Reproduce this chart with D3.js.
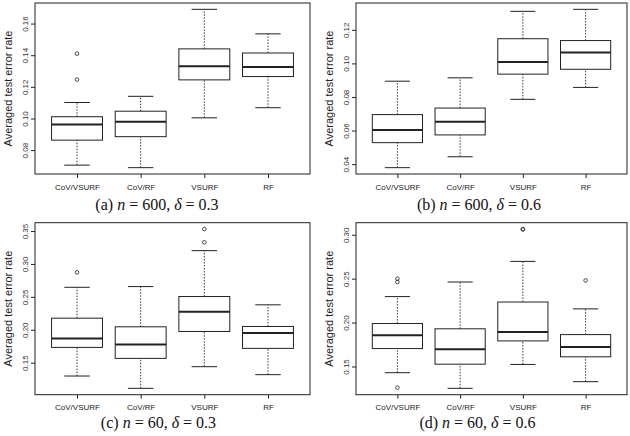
<!DOCTYPE html>
<html><head><meta charset="utf-8">
<script src="https://cdn.jsdelivr.net/npm/d3@7/dist/d3.min.js"></script>
<style>body{margin:0;background:#fff}</style></head>
<body>
<svg id="chart" width="630" height="436"></svg>
<script>
// ---- data ----
const categories = ["CoV/VSURF", "CoV/RF", "VSURF", "RF"];
// each row: [lower whisker, Q1, median, Q3, upper whisker]
const statsA = [[0.0705, 0.0863, 0.0962, 0.1011, 0.1101],
                [0.0689, 0.0885, 0.0979, 0.1046, 0.1140],
                [0.1004, 0.1244, 0.1330, 0.1440, 0.1690],
                [0.1068, 0.1265, 0.1326, 0.1414, 0.1535]];
const outliersA = [[0.1246, 0.1410], [], [], []];
const ticksA = [0.08, 0.10, 0.12, 0.14, 0.16];

const statsB = [[0.0379, 0.0528, 0.0604, 0.0695, 0.0894],
                [0.0444, 0.0574, 0.0653, 0.0734, 0.0914],
                [0.0786, 0.0936, 0.1008, 0.1147, 0.1310],
                [0.0857, 0.0965, 0.1065, 0.1136, 0.1322]];
const outliersB = [[], [], [], []];
const ticksB = [0.04, 0.06, 0.08, 0.10, 0.12];

const statsC = [[0.1297, 0.1732, 0.1868, 0.2176, 0.2645],
                [0.1110, 0.1565, 0.1777, 0.2045, 0.2656],
                [0.1439, 0.1974, 0.2273, 0.2505, 0.3202],
                [0.1318, 0.1717, 0.1949, 0.2050, 0.2379]];
const outliersC = [[0.2873], [], [0.3329, 0.3530], []];
const ticksC = [0.15, 0.20, 0.25, 0.30, 0.35];

const statsD = [[0.1429, 0.1704, 0.1855, 0.1989, 0.2296],
                [0.1251, 0.1526, 0.1697, 0.1929, 0.2462],
                [0.1523, 0.1791, 0.1894, 0.2234, 0.2697],
                [0.1327, 0.1610, 0.1723, 0.1863, 0.2156]];
const outliersD = [[0.1259, 0.2462, 0.2500], [], [0.3060, 0.3065], [0.2480]];
const ticksD = [0.15, 0.20, 0.25, 0.30];

const captionLetters = ["a", "b", "c", "d"];
const captionN = [600, 600, 60, 60];
const captionDelta = [0.3, 0.6, 0.3, 0.6];
const yTitle = "Averaged test error rate";

// ---- layout ----
const layout = [
  {x0: 35,  x1: 310, y0: 3,     y1: 174,   cx: 157,   cy: 209.5},
  {x0: 356, x1: 627, y0: 3,     y1: 174,   cx: 479,   cy: 209.5},
  {x0: 35,  x1: 310, y0: 222.7, y1: 394.7, cx: 158.5, cy: 427.5},
  {x0: 356, x1: 627, y0: 222.7, y1: 394.7, cx: 477.5, cy: 427.5}
];
const panelStats = [statsA, statsB, statsC, statsD];
const panelOut = [outliersA, outliersB, outliersC, outliersD];
const panelTicks = [ticksA, ticksB, ticksC, ticksD];

const svg = d3.select("#chart");
const ink = "#222";
const sans = "'Liberation Sans', Arial, Helvetica, sans-serif";
const serif = "'Liberation Serif', 'DejaVu Serif', serif";

panelStats.forEach((stats, p) => {
  const L = layout[p];
  const outs = panelOut[p];
  const all = stats.flat().concat(outs.flat());
  const lo = d3.min(all), hi = d3.max(all), pad = (hi - lo) * 0.04;
  const y = d3.scaleLinear().domain([lo - pad, hi + pad]).range([L.y1, L.y0]);
  const x = d3.scalePoint().domain(categories).range([L.x0, L.x1]).padding(0.66);
  const bw = x.step() * 0.8;
  const g = svg.append("g");

  // y axis
  const ya = g.append("g").attr("transform", `translate(${L.x0},0)`)
    .call(d3.axisLeft(y).tickValues(panelTicks[p]).tickSize(4).tickSizeOuter(0).tickFormat(d3.format(".2f")));
  ya.select(".domain").remove();
  ya.selectAll("line").attr("stroke", ink);
  ya.selectAll("text").attr("transform", "rotate(-90)").attr("x", 0).attr("y", -7.5).attr("dy", 0)
    .style("text-anchor", "middle").attr("fill", "#333").style("font-family", sans).style("font-size", "8px");

  // x axis
  const xa = g.append("g").attr("transform", `translate(0,${L.y1})`)
    .call(d3.axisBottom(x).tickSize(4).tickSizeOuter(0));
  xa.select(".domain").remove();
  xa.selectAll("line").attr("stroke", ink);
  xa.selectAll("text").attr("y", 15.5).attr("dy", 0).attr("fill", "#222")
    .style("font-family", sans).style("font-size", "8px");

  // y title
  g.append("text").attr("transform", `translate(${L.x0 - 23.5},${(L.y0 + L.y1) / 2}) rotate(-90)`)
    .attr("text-anchor", "middle").style("font-family", sans).style("font-size", "11px")
    .attr("fill", "#222").text(yTitle);

  // boxes
  stats.forEach((s, i) => {
    const cx = x(categories[i]);
    const bg = g.append("g");
    // whiskers
    bg.append("line").attr("x1", cx).attr("x2", cx).attr("y1", y(s[0])).attr("y2", y(s[1]))
      .attr("stroke", ink).attr("stroke-width", 0.9).attr("stroke-dasharray", "1.5,1.5");
    bg.append("line").attr("x1", cx).attr("x2", cx).attr("y1", y(s[3])).attr("y2", y(s[4]))
      .attr("stroke", ink).attr("stroke-width", 0.9).attr("stroke-dasharray", "1.5,1.5");
    // staples
    [s[0], s[4]].forEach(v => {
      bg.append("line").attr("x1", cx - bw / 4).attr("x2", cx + bw / 4).attr("y1", y(v)).attr("y2", y(v))
        .attr("stroke", ink).attr("stroke-width", 1);
    });
    // box
    bg.append("rect").attr("x", cx - bw / 2).attr("width", bw)
      .attr("y", y(s[3])).attr("height", y(s[1]) - y(s[3]))
      .attr("fill", "none").attr("stroke", ink).attr("stroke-width", 1);
    // median
    bg.append("line").attr("x1", cx - bw / 2).attr("x2", cx + bw / 2).attr("y1", y(s[2])).attr("y2", y(s[2]))
      .attr("stroke", ink).attr("stroke-width", 2);
    // outliers
    outs[i].forEach(v => {
      bg.append("circle").attr("cx", cx).attr("cy", y(v)).attr("r", 1.8)
        .attr("fill", "none").attr("stroke", ink).attr("stroke-width", 0.8);
    });
  });

  // frame
  g.append("rect").attr("x", L.x0).attr("y", L.y0).attr("width", L.x1 - L.x0).attr("height", L.y1 - L.y0)
    .attr("fill", "none").attr("stroke", ink).attr("stroke-width", 1);

  // caption
  const t = g.append("text").attr("x", L.cx).attr("y", L.cy).attr("text-anchor", "middle")
    .style("font-family", serif).style("font-size", "16px").attr("fill", "#111");
  t.append("tspan").text(`(${captionLetters[p]}) `);
  t.append("tspan").style("font-style", "italic").text("n");
  t.append("tspan").text(` = ${captionN[p]}, `);
  t.append("tspan").style("font-style", "italic").text("δ");
  t.append("tspan").text(` = ${captionDelta[p]}`);
});
</script>
</body></html>
